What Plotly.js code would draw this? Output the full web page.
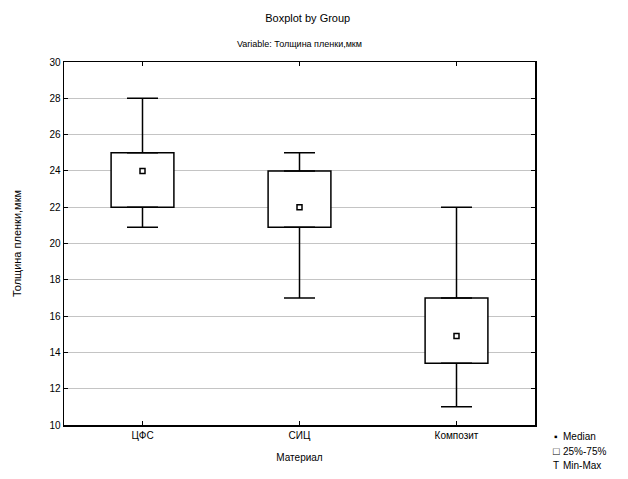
<!DOCTYPE html>
<html>
<head>
<meta charset="utf-8">
<script src="https://cdn.plot.ly/plotly-3.0.1.min.js"></script>
<style>
  html, body { margin: 0; padding: 0; background: #fff; }
  #chart { width: 628px; height: 479px; }
</style>
</head>
<body>
<div id="chart"></div>
<script>
// Film thickness by material: min, quartiles, median, max
const materials = ['ЦФС', 'СИЦ', 'Композит'];
const minVals    = [20.9, 17.0, 11.0];
const q1Vals     = [22.0, 20.9, 13.4];
const medianVals = [24.0, 22.0, 14.9];
const q3Vals     = [25.0, 24.0, 17.0];
const maxVals    = [28.0, 25.0, 22.0];
const yTicks     = [10, 12, 14, 16, 18, 20, 22, 24, 26, 28, 30];
const keyLabels  = ['Median', '25%-75%', 'Min-Max'];
const keySymbols = ['▪', '□', 'T'];

const FONT = 'Liberation Sans, Arial, sans-serif';
const black = '#000000';

// 25%-75% boxes as floating bars
const boxes = {
  type: 'bar',
  x: materials,
  base: q1Vals,
  y: q3Vals.map((v, i) => v - q1Vals[i]),
  width: 0.4,
  marker: { color: '#ffffff', line: { color: black, width: 1.5 } },
  hoverinfo: 'skip',
  showlegend: false
};

// Upper whiskers: from Q3 up to the maximum
const upperWhisker = {
  type: 'scatter',
  mode: 'markers',
  x: materials,
  y: q3Vals,
  marker: { size: 1, opacity: 0 },
  error_y: {
    type: 'data', symmetric: false,
    array: maxVals.map((v, i) => v - q3Vals[i]),
    arrayminus: q3Vals.map(() => 0),
    color: black, thickness: 1.5, width: 15.5
  },
  hoverinfo: 'skip',
  showlegend: false
};

// Lower whiskers: from Q1 down to the minimum
const lowerWhisker = {
  type: 'scatter',
  mode: 'markers',
  x: materials,
  y: q1Vals,
  marker: { size: 1, opacity: 0 },
  error_y: {
    type: 'data', symmetric: false,
    array: q1Vals.map(() => 0),
    arrayminus: q1Vals.map((v, i) => v - minVals[i]),
    color: black, thickness: 1.5, width: 15.5
  },
  hoverinfo: 'skip',
  showlegend: false
};

// Medians as small open squares
const medians = {
  type: 'scatter',
  mode: 'markers',
  x: materials,
  y: medianVals,
  marker: { symbol: 'square', size: 5, color: '#ffffff', line: { color: black, width: 1.5 } },
  showlegend: false
};

// Key in the lower right corner, outside the plot area
const keyRowsPx = [437, 451, 466];
const keySizes = [10, 11, 10];
const keyAnnotations = [];
keyLabels.forEach((label, i) => {
  keyAnnotations.push({
    text: keySymbols[i], xref: 'paper', yref: 'paper',
    x: (556 - 64) / 471, y: -(keyRowsPx[i] - 425) / 363,
    xanchor: 'center', yanchor: 'middle', showarrow: false,
    font: { family: FONT, size: keySizes[i], color: black }
  });
  keyAnnotations.push({
    text: label, xref: 'paper', yref: 'paper',
    x: (561 - 64) / 471, y: -(keyRowsPx[i] - 425) / 363,
    xanchor: 'left', yanchor: 'middle', showarrow: false,
    font: { family: FONT, size: 10, color: black }
  });
});

const layout = {
  width: 628,
  height: 479,
  margin: { l: 64, r: 93, t: 62, b: 54 },
  paper_bgcolor: '#ffffff',
  plot_bgcolor: '#ffffff',
  font: { family: FONT, size: 10, color: black },
  title: {
    text: 'Boxplot by Group',
    font: { family: FONT, size: 11, color: black },
    x: 0.49, xanchor: 'center',
    y: 1 - 18 / 479, yref: 'container', yanchor: 'middle'
  },
  xaxis: {
    type: 'category',
    range: [-0.5, 2.5],
    showline: true, linecolor: black, linewidth: 1.5, mirror: 'ticks',
    ticks: 'inside', ticklen: 4, tickcolor: black,
    showgrid: false, zeroline: false,
    tickfont: { family: FONT, size: 10, color: black },
    title: { text: 'Материал', font: { family: FONT, size: 10, color: black }, standoff: 14 }
  },
  yaxis: {
    range: [10, 30],
    tickvals: yTicks,
    showline: true, linecolor: black, linewidth: 1.5, mirror: 'ticks',
    ticks: 'inside', ticklen: 4, tickcolor: black,
    showgrid: true, gridcolor: '#c4c4c4', gridwidth: 1,
    zeroline: false,
    tickfont: { family: FONT, size: 10, color: black },
    title: { text: 'Толщина пленки,мкм', font: { family: FONT, size: 11, color: black }, standoff: 25 }
  },
  annotations: [
    {
      text: 'Variable: Толщина пленки,мкм',
      xref: 'paper', yref: 'paper', x: 0.5, y: 1 + 18 / 363,
      xanchor: 'center', yanchor: 'middle', showarrow: false,
      font: { family: FONT, size: 9, color: black }
    }
  ].concat(keyAnnotations),
  showlegend: false
};

Plotly.newPlot('chart', [boxes, upperWhisker, lowerWhisker, medians], layout, { displayModeBar: false, staticPlot: true });
</script>
</body>
</html>
